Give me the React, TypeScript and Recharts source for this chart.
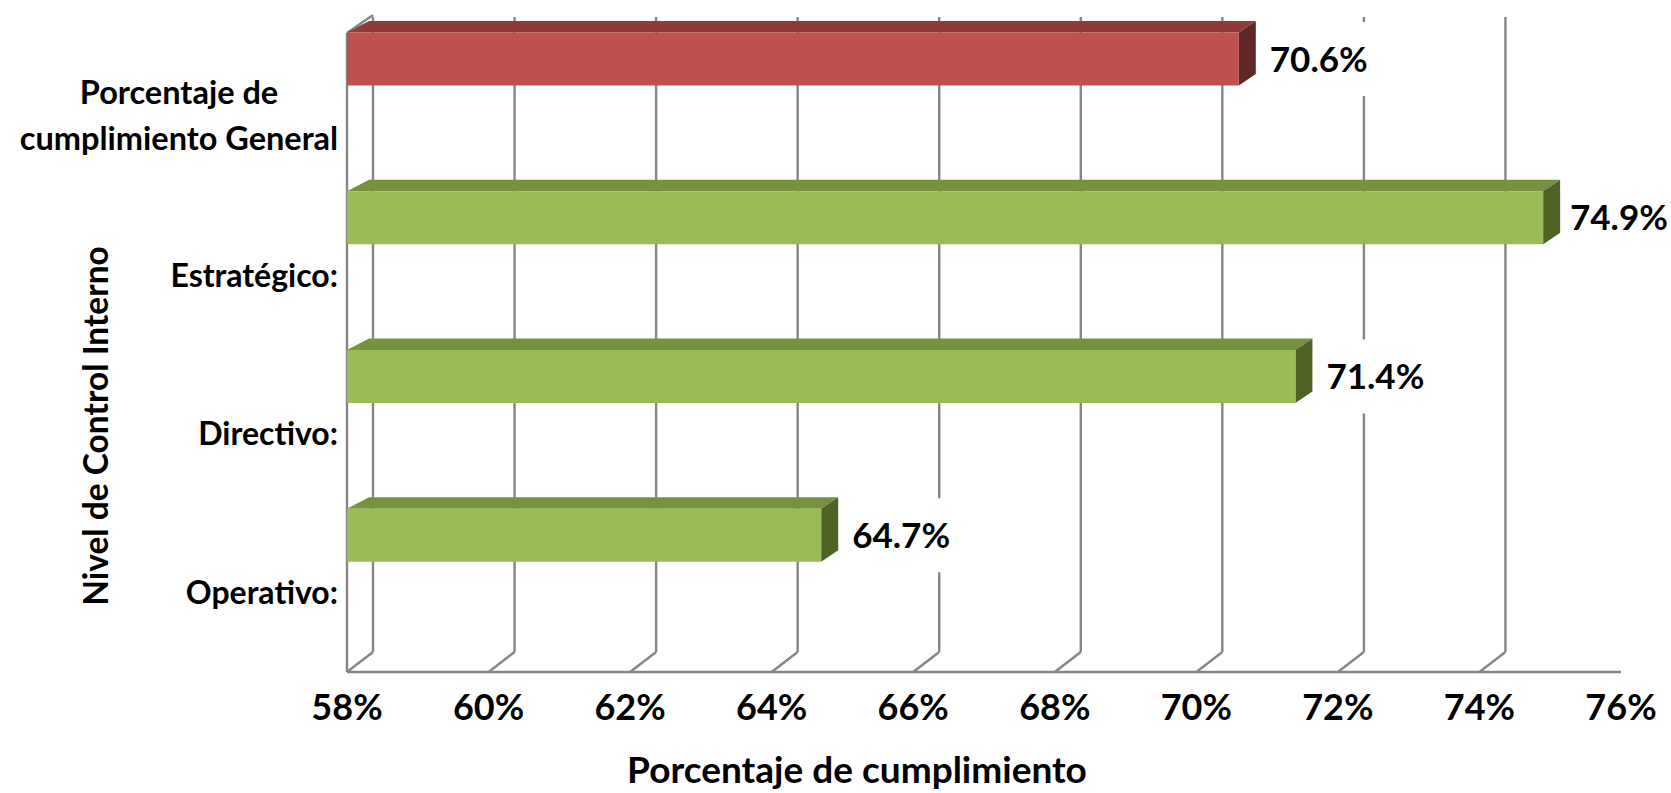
import { BarChart, Bar, XAxis, YAxis, CartesianGrid, LabelList, Label } from "recharts";

// datos
const categories = ["Porcentaje de cumplimiento General", "Estratégico:", "Directivo:", "Operativo:"];
const values = [70.6, 74.9, 71.4, 64.7];
const kinds = ["general", "nivel", "nivel", "nivel"];
const xTicks = [58, 60, 62, 64, 66, 68, 70, 72, 74, 76];

const data = categories.map((name, i) => ({ name, value: values[i], kind: kinds[i] }));

const palette: Record<string, { front: string; top: string; side: string }> = {
  general: { front: "#C0504D", top: "#8E3B3A", side: "#612726" },
  nivel: { front: "#9BBB59", top: "#76923C", side: "#4F6228" },
};

const FONT = "Lato, 'Open Sans', sans-serif";
const GRID = "#858585";
const PLOT_LEFT = 347;
const PLOT_RIGHT = 1621;
const LABEL_MAX_X = 1570; // keep the last label inside the chart
const DEPTH_SHIFT = -57.5; // bars sit halfway into the 3D floor
const WALL_DX = 26;
const WALL_DY = 20;

const Box3D = (props: any) => {
  const { x, y, width, height, payload } = props;
  const c = palette[payload.kind];
  const top = y + DEPTH_SHIFT;
  const L = 22;
  const R = 17;
  const D = 11.5;
  return (
    <g>
      <polygon
        points={`${x},${top} ${x + width},${top} ${x + width + R},${top - D} ${x + L},${top - D}`}
        fill={c.top}
      />
      <polygon
        points={`${x + width},${top} ${x + width + R},${top - D} ${x + width + R},${top + height - D} ${x + width},${top + height}`}
        fill={c.side}
      />
      <rect x={x} y={top} width={width} height={height} fill={c.front} />
    </g>
  );
};

const ValueLabel = (props: any) => {
  const { x, y, width, height, value } = props;
  const top = y + DEPTH_SHIFT;
  const tx = Math.min(x + width + 17 + 14, LABEL_MAX_X);
  const cy = top + height / 2;
  return (
    <g>
      <rect x={tx - 4} y={cy - 37} width={104} height={74} fill="#ffffff" />
      <text x={tx} y={cy + 12.5} fontFamily={FONT} fontWeight={700} fontSize={35} fill="#000">
        {Number(value).toFixed(1)}%
      </text>
    </g>
  );
};

const gridLine = (props: any) => {
  const { x1, y1, y2, index } = props;
  const x = x1;
  const key = `grid-${index}`;
  if (x > PLOT_RIGHT - 1) return <g key={key} />;
  const first = x < PLOT_LEFT + 1;
  return (
    <g key={key} stroke={GRID} strokeWidth={2.4}>
      {first && <line x1={x} y1={y1 - 4} x2={x} y2={y2} />}
      {first && <line x1={x} y1={y1 - 4} x2={x + WALL_DX} y2={y1 - 22} />}
      <line x1={x + WALL_DX} y1={y1 - WALL_DY} x2={x + WALL_DX} y2={y2 - WALL_DY} />
      <line x1={x} y1={y2} x2={x + WALL_DX} y2={y2 - WALL_DY} />
    </g>
  );
};

const XTick = (props: any) => {
  const { x, y, payload } = props;
  return (
    <text x={x} y={y + 48} textAnchor="middle" fontFamily={FONT} fontWeight={700} fontSize={36} fill="#000">
      {payload.value}%
    </text>
  );
};

const YTick = (props: any) => {
  const { x, y, payload } = props;
  const label: string = payload.value;
  const words = label.split(" ");
  if (words.length > 2) {
    const l1 = words.slice(0, 2).join(" ");
    const l2 = words.slice(2).join(" ");
    return (
      <text textAnchor="middle" fontFamily={FONT} fontWeight={700} fontSize={32.5} fill="#000">
        <tspan x={x - 168} y={y - 12}>{l1}</tspan>
        <tspan x={x - 168} y={y + 34}>{l2}</tspan>
      </text>
    );
  }
  return (
    <text x={x - 9} y={y + 11.5} textAnchor="end" fontFamily={FONT} fontWeight={700} fontSize={32} fill="#000">
      {label}
    </text>
  );
};

export default function App() {
  return (
    <div style={{ position: "absolute", left: 0, top: 0, background: "#fff" }}>
      <BarChart
        width={1671}
        height={793}
        data={data}
        layout="vertical"
        margin={{ top: 37, right: 50, bottom: 0, left: 0 }}
      >
        <CartesianGrid horizontal={false} vertical={gridLine} />
        <XAxis
          type="number"
          domain={[58, 76]}
          ticks={xTicks}
          interval={0}
          height={121}
          tickLine={false}
          tickSize={0}
          tickMargin={0}
          axisLine={{ stroke: GRID, strokeWidth: 2.4 }}
          tick={<XTick />}
        >
          <Label
            content={() => (
              <text x={857} y={783} textAnchor="middle" fontFamily={FONT} fontWeight={700} fontSize={37} fill="#000">
                Porcentaje de cumplimiento
              </text>
            )}
          />
        </XAxis>
        <YAxis
          type="category"
          dataKey="name"
          width={347}
          tickLine={false}
          axisLine={false}
          tickSize={0}
          tickMargin={0}
          interval={0}
          tick={<YTick />}
        >
          <Label
            content={() => (
              <text
                x={108}
                y={426}
                transform="rotate(-90 108 426)"
                textAnchor="middle"
                fontFamily={FONT}
                fontWeight={700}
                fontSize={33.5}
                fill="#000"
              >
                Nivel de Control Interno
              </text>
            )}
          />
        </YAxis>
        <Bar dataKey="value" barSize={53} shape={<Box3D />} isAnimationActive={false}>
          <LabelList dataKey="value" content={<ValueLabel />} />
        </Bar>
      </BarChart>
    </div>
  );
}
